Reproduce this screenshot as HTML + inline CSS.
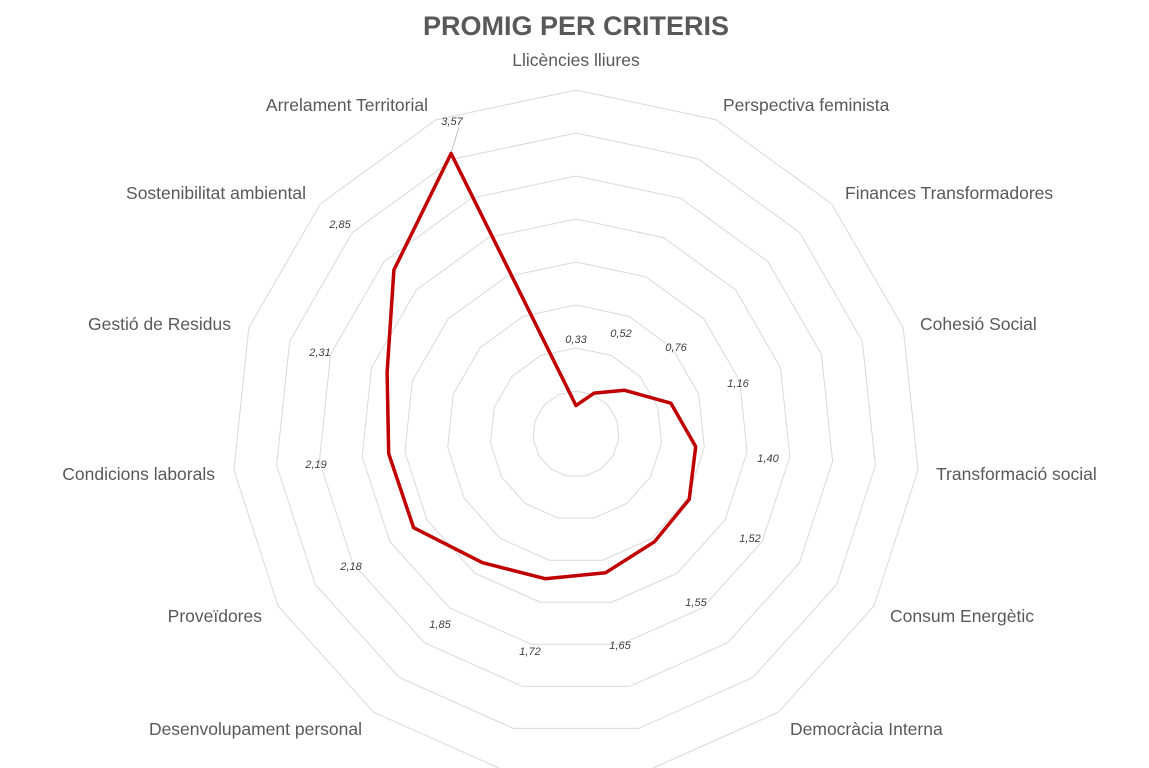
<!DOCTYPE html>
<html><head><meta charset="utf-8"><style>
html,body{margin:0;padding:0;background:#fff;}
svg{display:block;font-family:"Liberation Sans",sans-serif;}
</style></head><body>
<svg id="s" width="1149" height="768" xmlns="http://www.w3.org/2000/svg">
<text x="576" y="35" text-anchor="middle" font-size="27" font-weight="bold" fill="#595959">PROMIG PER CRITERIS</text>
<g font-size="17.5" fill="#595959" textLength="0">
<text x="576" y="66" text-anchor="middle">Llicències lliures</text>
<text x="723" y="111">Perspectiva feminista</text>
<text x="845" y="199">Finances Transformadores</text>
<text x="920" y="330">Cohesió Social</text>
<text x="936" y="480">Transformació social</text>
<text x="890" y="622">Consum Energètic</text>
<text x="790" y="735">Democràcia Interna</text>
<text x="362" y="735" text-anchor="end">Desenvolupament personal</text>
<text x="262" y="622" text-anchor="end">Proveïdores</text>
<text x="215" y="480" text-anchor="end">Condicions laborals</text>
<text x="231" y="330" text-anchor="end">Gestió de Residus</text>
<text x="306" y="199" text-anchor="end">Sostenibilitat ambiental</text>
<text x="428" y="111" text-anchor="end">Arrelament Territorial</text>
</g>
<g id="grid" stroke="#d9d9d9" stroke-width="1" fill="none"></g>
<line x1="451" y1="153" x2="459" y2="127" stroke="#bfbfbf" stroke-width="1"/>
<polygon id="series" fill="none" stroke="#c00000" stroke-width="3.5" stroke-linejoin="round"></polygon>
<g font-size="11" font-style="italic" fill="#404040" text-anchor="middle">
<text x="576" y="343">0,33</text>
<text x="621" y="337">0,52</text>
<text x="676" y="351">0,76</text>
<text x="738" y="387">1,16</text>
<text x="768" y="462">1,40</text>
<text x="750" y="542">1,52</text>
<text x="696" y="606">1,55</text>
<text x="620" y="649">1,65</text>
<text x="530" y="655">1,72</text>
<text x="440" y="628">1,85</text>
<text x="351" y="570">2,18</text>
<text x="316" y="468">2,19</text>
<text x="320" y="356">2,31</text>
<text x="340" y="228">2,85</text>
<text x="452" y="125">3,57</text>
</g>
</svg>
<script>
var cx=576,cy=434,sc=86,n=15;
var vals=[0.33,0.52,0.76,1.16,1.40,1.52,1.55,1.65,1.72,1.85,2.18,2.19,2.31,2.85,3.57];
function pt(i,r){var a=i*2*Math.PI/n;return [cx+r*Math.sin(a),cy-r*Math.cos(a)];}
var g=document.getElementById('grid'),ns='http://www.w3.org/2000/svg';
for(var k=1;k<=8;k++){var p=[];for(var i=0;i<n;i++){p.push(pt(i,k*43).map(function(v){return v.toFixed(1)}).join(','));}
var e=document.createElementNS(ns,'polygon');e.setAttribute('points',p.join(' '));g.appendChild(e);}
var p=[];for(var i=0;i<n;i++){p.push(pt(i,vals[i]*sc).map(function(v){return v.toFixed(1)}).join(','));}
document.getElementById('series').setAttribute('points',p.join(' '));
</script>
</body></html>
